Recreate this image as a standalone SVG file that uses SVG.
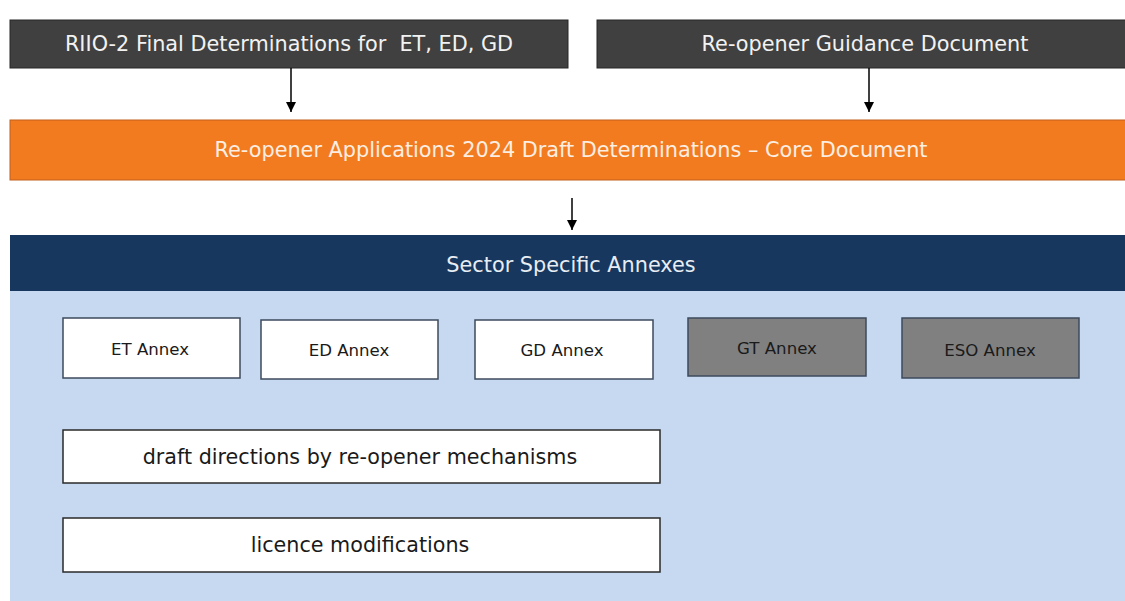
<svg xmlns="http://www.w3.org/2000/svg" width="1125" height="601" viewBox="0 0 1125 601">
  <defs>
    <marker id="arrow" viewBox="0 0 10 10" refX="10" refY="5" markerWidth="10" markerHeight="10" markerUnits="userSpaceOnUse" orient="auto">
      <path d="M0,0 L10,5 L0,10 z" fill="#000"/>
    </marker>
    <style>
      text { font-family: "DejaVu Sans", Verdana, sans-serif; text-anchor: middle; dominant-baseline: central; white-space: pre; }
      .src rect { fill: #404040; stroke: #262626; stroke-width: 1; }
      .src text { fill: #f2f2f2; font-size: 20.8px; }
      .core rect { fill: #f27b20; stroke: #c0601a; stroke-width: 1; }
      .core text { fill: #fdeee2; font-size: 20.8px; }
      .hdr rect { fill: #17375e; }
      .hdr text { fill: #e8edf3; font-size: 20.8px; }
      .annex rect { fill: #ffffff; stroke: #3e4a5c; stroke-width: 1.5; }
      .annex text { fill: #1a1a1a; font-size: 16.6px; }
      .annex.off rect { fill: #808080; }
      .wide rect { fill: #ffffff; stroke: #2a2a2a; stroke-width: 1.5; }
      .wide text { fill: #1a1a1a; font-size: 20.7px; }
      .conn line { stroke: #000; stroke-width: 1.5; marker-end: url(#arrow); }
    </style>
  </defs>

  <rect width="1125" height="601" fill="#ffffff"/>

  <!-- sector annex panel -->
  <rect id="panel" x="10" y="291" width="1115" height="310" fill="#c6d9f1"/>

  <g id="final-determinations" class="src">
    <rect x="10" y="20" width="558" height="48"/>
    <text x="289" y="44" xml:space="preserve">RIIO-2 Final Determinations for  ET, ED, GD</text>
  </g>

  <g id="guidance-document" class="src">
    <rect x="597" y="20" width="540" height="48"/>
    <text x="865" y="44">Re-opener Guidance Document</text>
  </g>

  <g id="core-document" class="core">
    <rect x="10" y="120" width="1125" height="60"/>
    <text x="571" y="150">Re-opener Applications 2024 Draft Determinations – Core Document</text>
  </g>

  <g id="sector-annexes" class="hdr">
    <rect x="10" y="235" width="1115" height="56"/>
    <text x="571" y="265">Sector Specific Annexes</text>
  </g>

  <g id="et-annex" class="annex">
    <rect x="63" y="318" width="177" height="60"/>
    <text x="150" y="349">ET Annex</text>
  </g>
  <g id="ed-annex" class="annex">
    <rect x="261" y="320" width="177" height="59"/>
    <text x="349" y="350">ED Annex</text>
  </g>
  <g id="gd-annex" class="annex">
    <rect x="475" y="320" width="178" height="59"/>
    <text x="562" y="350">GD Annex</text>
  </g>
  <g id="gt-annex" class="annex off">
    <rect x="688" y="318" width="178" height="58"/>
    <text x="777" y="348">GT Annex</text>
  </g>
  <g id="eso-annex" class="annex off">
    <rect x="902" y="318" width="177" height="60"/>
    <text x="990" y="350">ESO Annex</text>
  </g>

  <g id="draft-directions" class="wide">
    <rect x="63" y="430" width="597" height="53"/>
    <text x="360" y="457">draft directions by re-opener mechanisms</text>
  </g>
  <g id="licence-modifications" class="wide">
    <rect x="63" y="518" width="597" height="54"/>
    <text x="360" y="545">licence modifications</text>
  </g>

  <g id="connectors" class="conn">
    <line x1="291" y1="68" x2="291" y2="112"/>
    <line x1="869" y1="68" x2="869" y2="112"/>
    <line x1="572" y1="198" x2="572" y2="230"/>
  </g>
</svg>
